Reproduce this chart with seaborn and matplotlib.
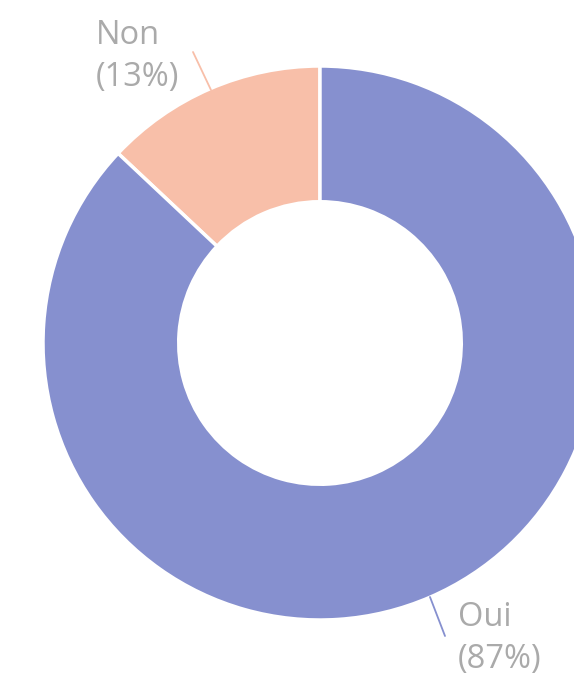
import matplotlib
matplotlib.use("Agg")
import matplotlib.pyplot as plt
import seaborn as sns

# data
labels = ["Non", "Oui"]
shares = [13, 87]
colors = ["#F8BFA9", "#8690CF"]

sns.set_theme(style="white")
plt.rcParams['font.family'] = ['Open Sans', 'DejaVu Sans']

W, H = 574, 676
fig = plt.figure(figsize=(W / 100, H / 100), dpi=100)
ax = fig.add_axes([0, 0, 1, 1])

# donut, centre/radius in pixel units (y measured from bottom)
cx, cy, r = 320, H - 343, 277
wedges, _ = ax.pie(shares, colors=colors, startangle=90, counterclock=True,
                   center=(cx, cy), radius=r,
                   wedgeprops=dict(width=r * 0.49, edgecolor="white", linewidth=2.5))

ax.set_xlim(0, W)
ax.set_ylim(0, H)
ax.set_aspect("equal")
ax.axis("off")

# leader lines + labels
label_pos = {"Non": (96, 19), "Oui": (458, 601)}
line_pos = {"Non": [(193, 52), (211, 90)], "Oui": [(430, 597), (445, 636)]}
for lab, val, col in zip(labels, shares, colors):
    (x0, y0), (x1, y1) = line_pos[lab]
    ax.plot([x0, x1], [H - y0, H - y1], color=col, lw=1.3)
    tx, ty = label_pos[lab]
    ax.text(tx, H - ty, f"{lab}\n({val}%)", ha="left", va="top",
            fontsize=23.5, color="#AAAAAA", linespacing=1.35)

fig.savefig("out.png", dpi=100)
